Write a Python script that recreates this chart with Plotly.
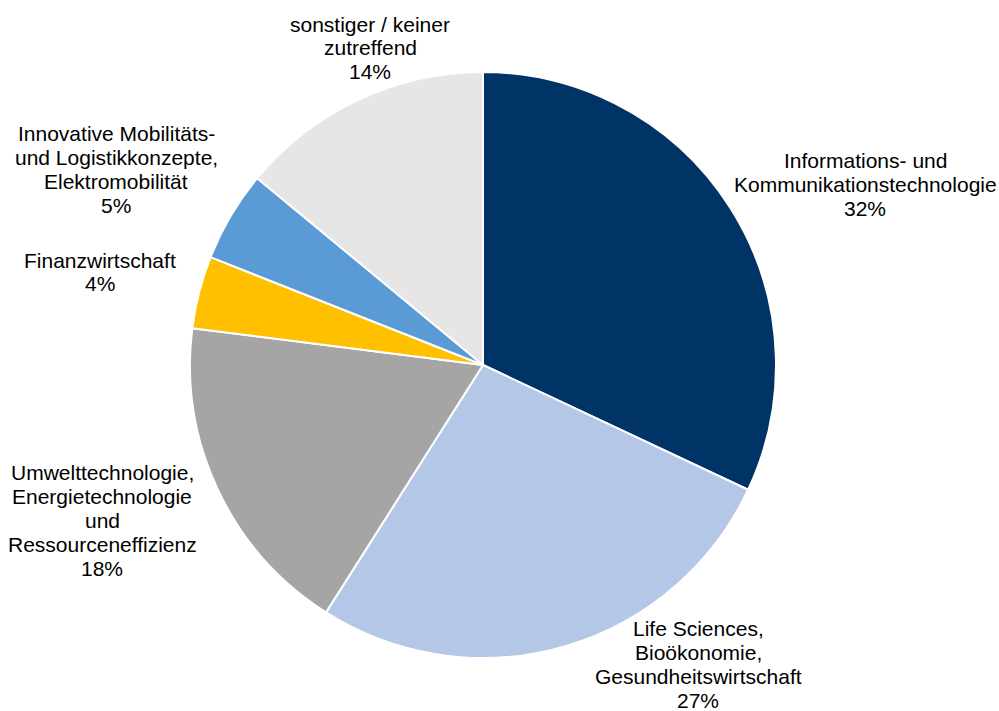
import plotly.graph_objects as go

# Branchen der Unternehmen (Anteile in %)
categories = [
    ["Informations- und", "Kommunikationstechnologie"],
    ["Life Sciences,", "Bioökonomie,", "Gesundheitswirtschaft"],
    ["Umwelttechnologie,", "Energietechnologie", "und", "Ressourceneffizienz"],
    ["Finanzwirtschaft"],
    ["Innovative Mobilitäts-", "und Logistikkonzepte,", "Elektromobilität"],
    ["sonstiger / keiner", "zutreffend"],
]
shares = [32, 27, 18, 4, 5, 14]
colors = ["#003366", "#B4C7E7", "#A5A5A5", "#FFC000", "#5B9BD5", "#E7E6E6"]

# label block centres in pixels (x, y from top)
label_pos = [(865, 184), (698, 664), (102, 520), (100, 272), (116, 169), (370, 48)]
line_step = 24

W, H = 999, 711
cx, cy, r = 483, 365, 293

fig = go.Figure(
    go.Pie(
        labels=[" ".join(c) for c in categories],
        values=shares,
        sort=False,
        direction="clockwise",
        rotation=0,
        marker=dict(colors=colors, line=dict(color="white", width=2)),
        textinfo="none",
        hoverinfo="label+percent",
        domain=dict(x=[(cx - r) / W, (cx + r) / W], y=[1 - (cy + r) / H, 1 - (cy - r) / H]),
        showlegend=False,
    )
)

font = dict(family="Liberation Sans, Arial, sans-serif", size=21, color="#000000")
for lines, val, (px, py) in zip(categories, shares, label_pos):
    block = lines + [f"{val}%"]
    n = len(block)
    for i, line in enumerate(block):
        ly = py + (i - (n - 1) / 2) * line_step
        fig.add_annotation(
            text=line,
            x=px / W, y=1 - ly / H, xref="paper", yref="paper",
            xanchor="center", yanchor="middle", showarrow=False,
            font=font,
        )

fig.update_layout(
    width=W, height=H,
    margin=dict(l=0, r=0, t=0, b=0),
    paper_bgcolor="white", plot_bgcolor="white",
)

fig.write_html("out.html")
